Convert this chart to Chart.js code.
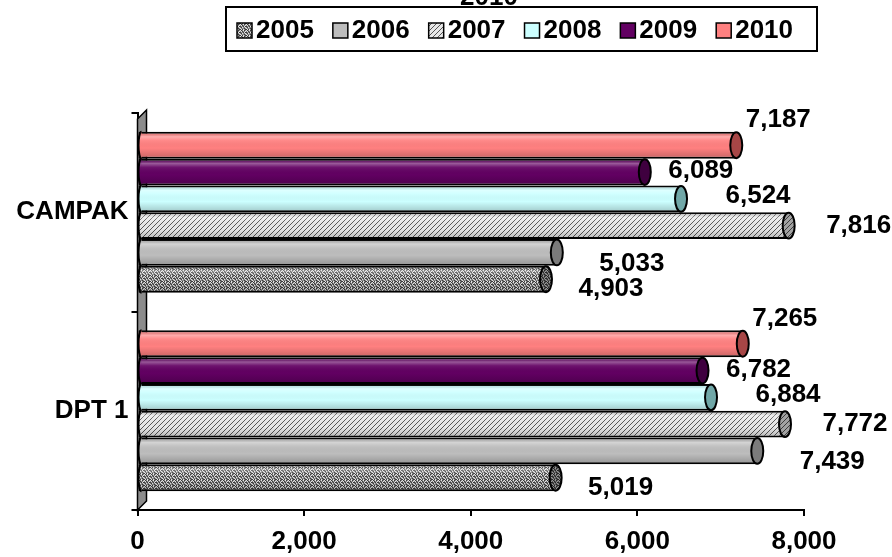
<!DOCTYPE html>
<html>
<head>
<meta charset="utf-8">
<script src="https://cdn.jsdelivr.net/npm/chart.js@4.4.0/dist/chart.umd.min.js"></script>
<style>
  html, body { margin: 0; padding: 0; background: #fff; }
  #wrap { width: 892px; height: 557px; }
</style>
</head>
<body>
<div id="wrap"><canvas id="myChart"></canvas></div>
<script>
// data
const categories = ['CAMPAK', 'DPT 1'];
const years = ['2005', '2006', '2007', '2008', '2009', '2010'];
const v2005 = [4903, 5019];
const v2006 = [5033, 7439];
const v2007 = [7816, 7772];
const v2008 = [6524, 6884];
const v2009 = [6089, 6782];
const v2010 = [7187, 7265];
const xTicks = [0, 2000, 4000, 6000, 8000];
const chartTitle = '2010';

const FONT = '"Liberation Sans", Arial, sans-serif';
Chart.defaults.font.family = FONT;
Chart.defaults.color = '#000';

// texture fills for the two patterned series
function makePattern(size, draw) {
  const c = document.createElement('canvas');
  c.width = size; c.height = size;
  draw(c.getContext('2d'));
  return document.createElement('canvas').getContext('2d').createPattern(c, 'repeat');
}
const dotsLight = [[0,0],[3,0],[1,1],[4,2],[2,3],[5,3],[0,4],[3,5],[5,1],[1,5]];
const dotsDark = [[1,0],[4,0],[2,1],[0,2],[3,2],[5,2],[1,3],[4,4],[2,5],[5,5],[0,5]];
const stipple = makePattern(6, g => {
  g.fillStyle = '#8a8a8a'; g.fillRect(0, 0, 6, 6);
  g.fillStyle = '#e6e6e6';
  dotsLight.forEach(p => g.fillRect(p[0], p[1], 1, 1));
  g.fillStyle = '#3a3a3a';
  dotsDark.forEach(p => g.fillRect(p[0], p[1], 1, 1));
});
const hatch = makePattern(5, g => {
  g.fillStyle = '#e8e8e8'; g.fillRect(0, 0, 5, 5);
  g.strokeStyle = '#555'; g.lineWidth = 1;
  g.beginPath(); g.moveTo(-1, 6); g.lineTo(6, -1); g.stroke();
});

const looks = {
  '2005': { fill: stipple, cap: 'rgba(0,0,0,0.35)', shift: [65, 10] },
  '2006': { fill: '#bdbdbd', cap: 'rgba(0,0,0,0.35)', shift: [75, 11] },
  '2007': { fill: hatch, cap: 'rgba(0,0,0,0.3)', shift: [70, 0] },
  '2008': { fill: '#ccffff', cap: 'rgba(0,60,60,0.45)', shift: [77, -3] },
  '2009': { fill: '#620062', cap: 'rgba(0,0,0,0.35)', shift: [56, -1] },
  '2010': { fill: '#ff8080', cap: 'rgba(60,0,0,0.45)', shift: [42, -25] }
};

const series = [v2005, v2006, v2007, v2008, v2009, v2010];
// 2010 first so it sits on top inside each category
const datasets = years.map((y, i) => ({
  label: y,
  data: series[i],
  backgroundColor: looks[y].fill,
  borderColor: '#000',
  borderWidth: 2,
  borderSkipped: 'start',
  barPercentage: 1,
  categoryPercentage: 0.81
})).reverse();

const fmt = v => v.toLocaleString('en-US');

const cylinders = {
  id: 'cylinders',
  beforeDatasetsDraw(chart) {
    // grey side wall of the 3D plot
    const ctx = chart.ctx, a = chart.chartArea;
    ctx.save();
    ctx.beginPath();
    ctx.moveTo(a.left, a.top + 6);
    ctx.lineTo(a.left + 9, a.top - 3);
    ctx.lineTo(a.left + 9, a.bottom - 9);
    ctx.lineTo(a.left, a.bottom);
    ctx.closePath();
    ctx.fillStyle = '#8c8c8c';
    ctx.fill();
    ctx.lineWidth = 1.5;
    ctx.strokeStyle = '#000';
    ctx.stroke();
    ctx.restore();
  },
  afterDatasetsDraw(chart) {
    const ctx = chart.ctx;
    chart.data.datasets.forEach((ds, di) => {
      const look = looks[ds.label];
      chart.getDatasetMeta(di).data.forEach((bar, i) => {
        const h = bar.height, top = bar.y - h / 2, x0 = bar.base, x1 = bar.x;
        ctx.save();
        // round shading across the bar
        const g = ctx.createLinearGradient(0, top, 0, top + h);
        g.addColorStop(0, 'rgba(0,0,0,0.05)');
        g.addColorStop(0.18, 'rgba(255,255,255,0.35)');
        g.addColorStop(0.32, 'rgba(255,255,255,0.08)');
        g.addColorStop(0.6, 'rgba(0,0,0,0)');
        g.addColorStop(1, 'rgba(0,0,0,0.22)');
        ctx.beginPath();
        ctx.rect(x0, top + 1, x1 - x0, h - 2);
        ctx.fillStyle = g;
        ctx.fill();
        // left rounded end
        ctx.beginPath();
        ctx.ellipse(x0 + 3, bar.y, 3, h / 2, 0, Math.PI / 2, Math.PI * 1.5);
        ctx.fillStyle = look.fill; ctx.fill();
        ctx.fillStyle = g; ctx.fill();
        ctx.lineWidth = 2; ctx.strokeStyle = '#000'; ctx.stroke();
        // right cap
        ctx.beginPath();
        ctx.ellipse(x1, bar.y, 6, h / 2 - 0.5, 0, 0, Math.PI * 2);
        ctx.fillStyle = look.fill; ctx.fill();
        ctx.fillStyle = look.cap; ctx.fill();
        ctx.lineWidth = 2; ctx.strokeStyle = '#000'; ctx.stroke();
        // value label
        ctx.font = 'bold 26px ' + FONT;
        ctx.fillStyle = '#000';
        ctx.textAlign = 'center';
        ctx.textBaseline = 'middle';
        ctx.fillText(fmt(ds.data[i]), x1 + look.shift[0], bar.y + look.shift[1]);
        ctx.restore();
      });
    });
  },
  afterDraw(chart) {
    const ctx = chart.ctx;
    ctx.save();
    ctx.font = 'bold 26px ' + FONT;
    ctx.fillStyle = '#000';
    ctx.textAlign = 'center';
    ctx.textBaseline = 'alphabetic';
    ctx.fillText(chartTitle, 489, 5);
    // legend box
    ctx.fillStyle = '#fff';
    ctx.fillRect(226, 7, 591, 44);
    ctx.lineWidth = 2;
    ctx.strokeStyle = '#000';
    ctx.strokeRect(226, 7, 591, 44);
    let x = 237;
    years.forEach(y => {
      ctx.fillStyle = looks[y].fill;
      ctx.fillRect(x, 23, 15, 15);
      ctx.lineWidth = 1.5;
      ctx.strokeRect(x, 23, 15, 15);
      ctx.fillStyle = '#000';
      ctx.textAlign = 'left';
      ctx.textBaseline = 'middle';
      ctx.fillText(y, x + 19, 31);
      x += 19 + ctx.measureText(y).width + 19;
    });
    ctx.restore();
  }
};

new Chart(document.getElementById('myChart'), {
  type: 'bar',
  data: { labels: categories, datasets: datasets },
  plugins: [cylinders],
  options: {
    indexAxis: 'y',
    responsive: true,
    maintainAspectRatio: false,
    animation: false,
    layout: { padding: { top: 113, right: 88, left: 0, bottom: 0 } },
    plugins: {
      legend: { display: false },
      tooltip: { enabled: false }
    },
    scales: {
      x: {
        type: 'linear',
        min: 0,
        max: 8000,
        afterBuildTicks: s => { s.ticks = xTicks.map(v => ({ value: v })); },
        afterFit: s => { s.height = 47; },
        grid: { drawOnChartArea: false, tickLength: 6, color: '#000', lineWidth: 2 },
        border: { color: '#000', width: 2 },
        ticks: { font: { size: 26, weight: 'bold' }, padding: 10, callback: v => fmt(v) }
      },
      y: {
        afterFit: s => { s.width = 137.5; },
        grid: { drawOnChartArea: false, tickLength: 6, color: '#000', lineWidth: 2 },
        border: { color: '#000', width: 2 },
        ticks: { font: { size: 26, weight: 'bold' }, padding: 3 }
      }
    }
  }
});
</script>
</body>
</html>
